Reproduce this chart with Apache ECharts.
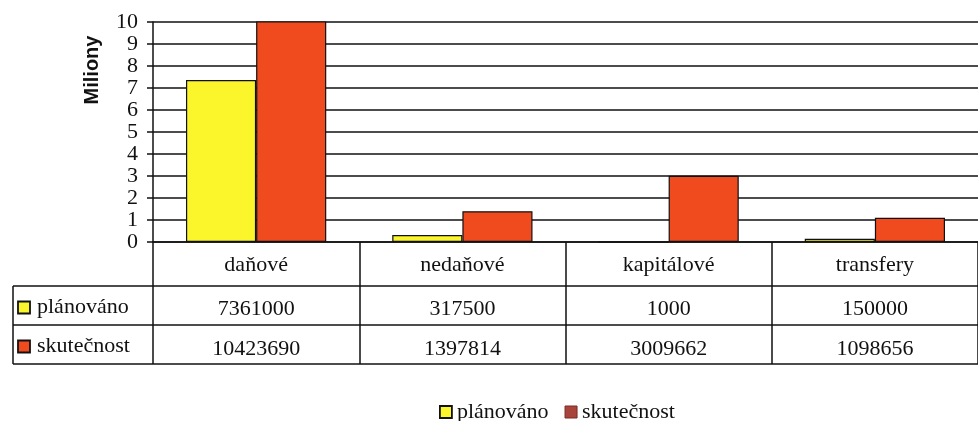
<!DOCTYPE html>
<html><head><meta charset="utf-8">
<script src="https://cdn.jsdelivr.net/npm/echarts@6/dist/echarts.min.js"></script>
<style>html,body{margin:0;padding:0;background:#fff}#c{width:978px;height:421px}</style>
</head><body><div id="c"></div>
<script>
const categories = ['daňové', 'nedaňové', 'kapitálové', 'transfery'];
const seriesNames = ['plánováno', 'skutečnost'];
const planned = [7361000, 317500, 1000, 150000];
const actual = [10423690, 1397814, 3009662, 1098656];
const yTicks = [0,1,2,3,4,5,6,7,8,9,10];

const YEL = '#fbf52c', RED = '#f04a1f', LEGRED = '#a8443b';
const FONT = '"Liberation Serif", "Times New Roman", serif';
const FS = 22;
const chart = echarts.init(document.getElementById('c'));

const GL = 153, GT = 22, GW = 828, GH = 220;
const rowY = [242, 286, 325, 364];

const tableGraphics = [];
[1,2,3].forEach(i => {
  tableGraphics.push({type:'line', shape:{x1:13,y1:rowY[i],x2:981,y2:rowY[i]}, style:{stroke:'#111',lineWidth:1.5}});
});
tableGraphics.push({type:'line', shape:{x1:13,y1:rowY[1],x2:13,y2:rowY[3]}, style:{stroke:'#111',lineWidth:1.5}});
const keyColors = [YEL, RED];
seriesNames.forEach((n, i) => {
  const cy = (rowY[i+1] + rowY[i+2]) / 2 + 2;
  tableGraphics.push({type:'rect', shape:{x:18,y:cy-6,width:12,height:12}, style:{fill:keyColors[i],stroke:'#111',lineWidth:1.8}});
  tableGraphics.push({type:'text', x:37, y:cy, style:{text:n, font:FS + 'px ' + FONT, fill:'#111', verticalAlign:'middle', align:'left'}});
});
tableGraphics.push({type:'text', x:92, y:70, rotation:Math.PI/2, style:{text:'Miliony', font:'bold 20px "Liberation Sans", Arial, sans-serif', fill:'#111', align:'center', verticalAlign:'middle'}});

const fmt = v => String(v);

const option = {
  animation: false,
  backgroundColor: '#fff',
  grid: {left: GL, top: GT, width: GW, height: GH, containLabel: false},
  legend: {
    left: 434, top: 396, itemWidth: 12, itemHeight: 12, itemGap: 16, icon: 'rect',
    textStyle: {fontFamily: FONT, fontSize: FS, color: '#111'},
    data: [
      {name: seriesNames[0], itemStyle: {color: YEL, borderColor: '#111', borderWidth: 1.8}},
      {name: seriesNames[1], itemStyle: {color: LEGRED, borderColor: '#7a2a25', borderWidth: 1}}
    ]
  },
  xAxis: [
    {type:'category', data: categories, position:'bottom',
     axisLine:{show:true, lineStyle:{color:'#111', width:1.5}},
     axisTick:{show:true, length:122, interval:0, lineStyle:{color:'#111', width:1.5}},
     axisLabel:{interval:0, margin:12, fontFamily:FONT, fontSize:FS, color:'#111'}},
    {type:'category', data: planned.map(fmt), position:'bottom', offset:44,
     axisLine:{show:false}, axisTick:{show:false},
     axisLabel:{interval:0, margin:12, fontFamily:FONT, fontSize:FS, color:'#111'}},
    {type:'category', data: actual.map(fmt), position:'bottom', offset:84,
     axisLine:{show:false}, axisTick:{show:false},
     axisLabel:{interval:0, margin:12, fontFamily:FONT, fontSize:FS, color:'#111'}}
  ],
  yAxis: {type:'value', min: yTicks[0], max: yTicks[yTicks.length-1], interval: 1,
    axisLine:{show:true, lineStyle:{color:'#111', width:1.5}},
    axisTick:{show:true, length:6, lineStyle:{color:'#111', width:1.5}},
    axisLabel:{margin:15, fontFamily:FONT, fontSize:FS, color:'#111'},
    splitLine:{show:true, lineStyle:{color:'#111', width:1.5}}},
  series: [
    {name: seriesNames[0], type:'bar', xAxisIndex:0, data: planned.map(v => v/1e6),
     barGap:'0%', barCategoryGap:'32%', itemStyle:{color:YEL, borderColor:'#111', borderWidth:1.2}},
    {name: seriesNames[1], type:'bar', xAxisIndex:0, data: actual.map(v => v/1e6),
     barGap:'0%', barCategoryGap:'32%', itemStyle:{color:RED, borderColor:'#111', borderWidth:1.2}}
  ],
  graphic: tableGraphics
};
chart.setOption(option);
</script></body></html>
